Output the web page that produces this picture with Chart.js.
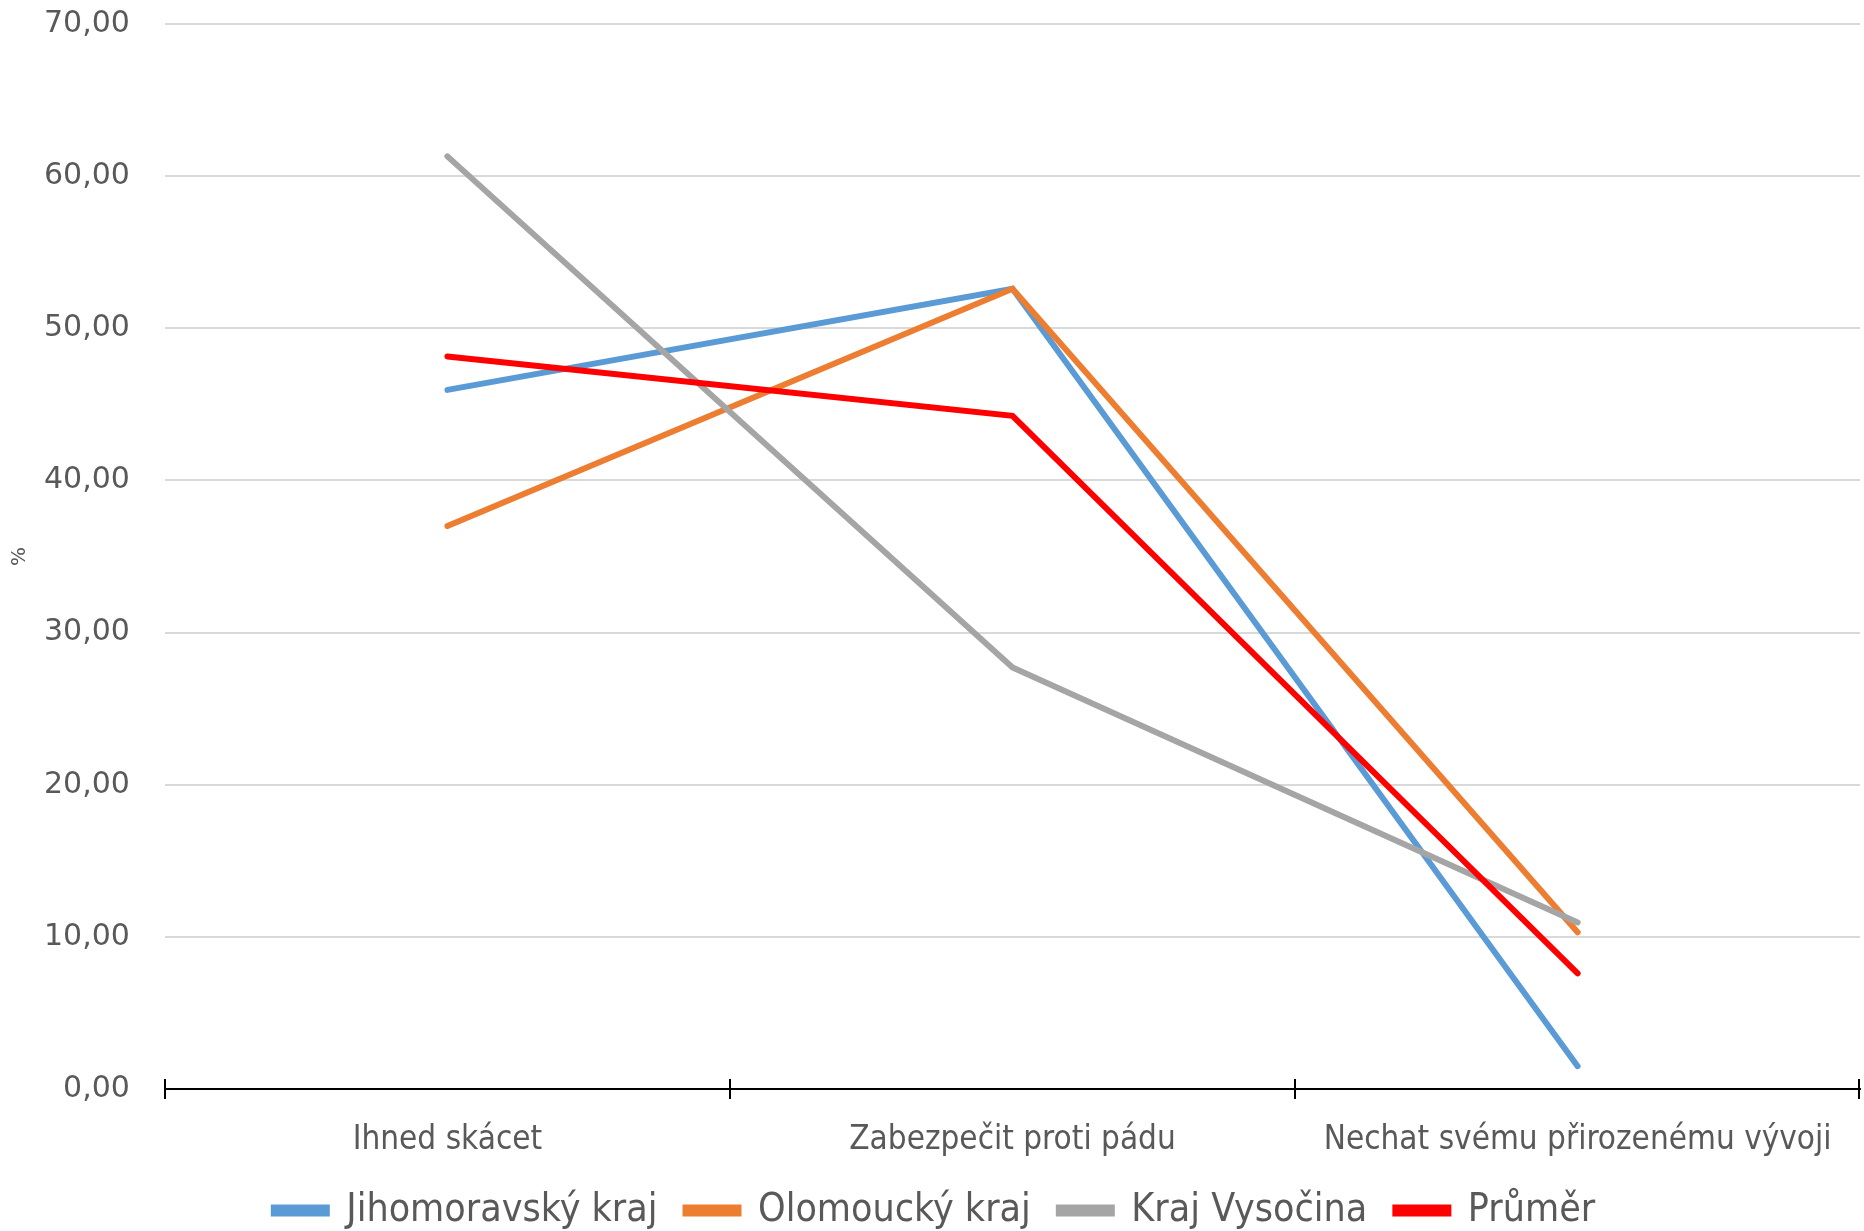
<!DOCTYPE html>
<html>
<head>
<meta charset="utf-8">
<script src="https://cdn.jsdelivr.net/npm/chart.js@4"></script>
<style>
  html, body { margin: 0; padding: 0; background: #fff; }
  #wrap { width: 1864px; height: 1231px; }
</style>
</head>
<body>
<div id="wrap"><canvas id="chart"></canvas></div>
<script>
const categories = ['Ihned skácet', 'Zabezpečit proti pádu', 'Nechat svému přirozenému vývoji'];
const jihomoravsky = [45.95, 52.6, 1.5];
const olomoucky = [37.0, 52.6, 10.3];
const vysocina = [61.3, 27.7, 10.95];
const prumer = [48.15, 44.25, 7.6];
const yTicks = [0, 10, 20, 30, 40, 50, 60, 70];

const condensed = "'Liberation Sans Narrow', 'DejaVu Sans Condensed', 'Open Sans', sans-serif";

function series(label, values, color, order) {
    return {
        label: label,
        data: values,
        borderColor: color,
        backgroundColor: color,
        borderWidth: 6,
        borderCapStyle: 'round',
        pointRadius: 0,
        tension: 0,
        order: order
    };
}

// tick marks on the category axis go above and below the line
const axisTicks = {
    id: 'axisTicks',
    afterDraw(chart) {
        const x = chart.scales.x;
        const ctx = chart.ctx;
        const y = chart.chartArea.bottom;
        const step = (x.right - x.left) / categories.length;
        ctx.save();
        ctx.strokeStyle = '#000';
        ctx.lineWidth = 2;
        for (let i = 0; i <= categories.length; i++) {
            const px = Math.round(x.left + i * step) - (i === categories.length ? 1 : 0);
            ctx.beginPath();
            ctx.moveTo(px, y - 10);
            ctx.lineTo(px, y + 10);
            ctx.stroke();
        }
        ctx.restore();
    }
};

new Chart(document.getElementById('chart').getContext('2d'), {
    type: 'line',
    data: {
        labels: categories,
        datasets: [
            series('Jihomoravský kraj', jihomoravsky, '#5B9BD5', 3),
            series('Olomoucký kraj', olomoucky, '#ED7D31', 2),
            series('Kraj Vysočina', vysocina, '#A5A5A5', 1),
            series('Průměr', prumer, '#FF0000', 0)
        ]
    },
    options: {
        responsive: true,
        maintainAspectRatio: false,
        animation: false,
        layout: { padding: { top: 24, right: 3, left: 8, bottom: -9 } },
        plugins: {
            tooltip: { enabled: false },
            legend: {
                position: 'bottom',
                labels: {
                    boxWidth: 53,
                    boxHeight: 6,
                    padding: 28,
                    color: '#595959',
                    font: { family: condensed, size: 39 },
                    sort: (a, b) => a.datasetIndex - b.datasetIndex
                }
            }
        },
        scales: {
            x: {
                offset: true,
                grid: { display: false, offset: true, drawTicks: false },
                border: { color: '#000', width: 2 },
                afterFit(scale) { scale.height = 74; },
                ticks: {
                    color: '#595959',
                    padding: 32,
                    maxRotation: 0,
                    autoSkip: false,
                    font: { family: condensed, size: 33 }
                }
            },
            y: {
                min: 0,
                max: 70,
                afterBuildTicks(axis) {
                    axis.ticks = yTicks.map(v => ({ value: v }));
                },
                // invisible tick marks give the gap between labels and plot
                grid: { color: '#D9D9D9', lineWidth: 2, drawTicks: true, tickLength: 35, tickColor: 'rgba(0,0,0,0)' },
                border: { display: false },
                ticks: {
                    color: '#595959',
                    padding: 0,
                    font: { family: "'DejaVu Sans', Verdana, sans-serif", size: 30 },
                    callback: v => v.toFixed(2).replace('.', ',')
                },
                title: {
                    display: true,
                    text: '%',
                    color: '#595959',
                    padding: { top: 0, bottom: 12 },
                    font: { family: "'DejaVu Sans', sans-serif", size: 20 }
                }
            }
        }
    },
    plugins: [axisTicks]
});
</script>
</body>
</html>
